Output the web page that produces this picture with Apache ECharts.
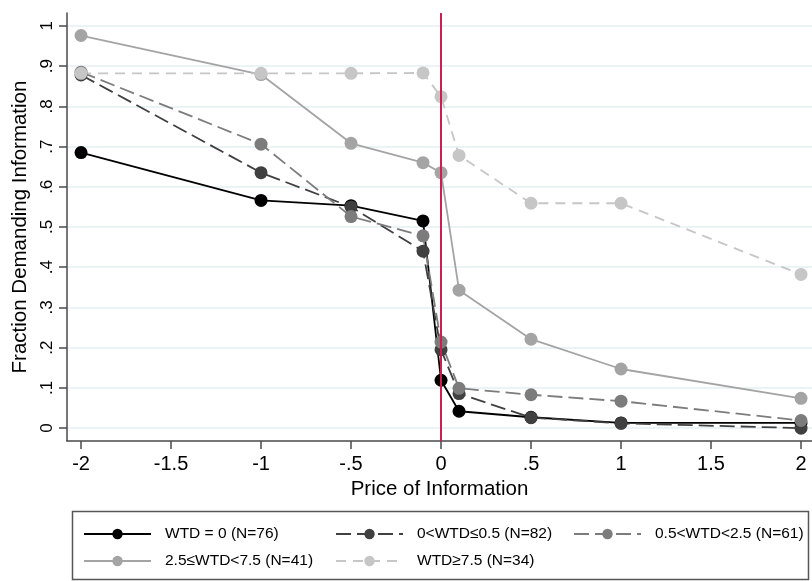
<!DOCTYPE html>
<html>
<head>
<meta charset="utf-8">
<script src="https://cdn.jsdelivr.net/npm/echarts@6/dist/echarts.min.js"></script>
<style>
html,body{margin:0;padding:0;background:#fff;}
#chart{width:812px;height:581px;}
</style>
</head>
<body>
<div id="chart"></div>
<script>
// ---- data ----
const prices = [-2, -1, -0.5, -0.1, 0, 0.1, 0.5, 1, 2];
const seriesNames = ['WTD = 0 (N=76)', '0<WTD\u22640.5 (N=82)', '0.5<WTD<2.5 (N=61)', '2.5\u2264WTD<7.5 (N=41)', 'WTD\u22657.5 (N=34)'];
const wtd0      = [0.685, 0.566, 0.553, 0.515, 0.119, 0.042, 0.027, 0.013, 0.013];
const wtd0to05  = [0.878, 0.635, 0.550, 0.440, 0.195, 0.086, 0.026, 0.012, 0.000];
const wtd05to25 = [0.885, 0.706, 0.526, 0.478, 0.214, 0.099, 0.083, 0.067, 0.019];
const wtd25to75 = [0.976, 0.879, 0.708, 0.660, 0.635, 0.343, 0.221, 0.147, 0.074];
const wtd75up   = [0.882, 0.882, 0.882, 0.883, 0.824, 0.678, 0.559, 0.559, 0.382];
const xTickValues = [-2, -1.5, -1, -0.5, 0, 0.5, 1, 1.5, 2];
const xTickLabels = ['-2', '-1.5', '-1', '-.5', '0', '.5', '1', '1.5', '2'];
const yTickValues = [0, 0.1, 0.2, 0.3, 0.4, 0.5, 0.6, 0.7, 0.8, 0.9, 1];
const yTickLabels = ['0', '.1', '.2', '.3', '.4', '.5', '.6', '.7', '.8', '.9', '1'];
const refLineX = 0;

const allValues = [wtd0, wtd0to05, wtd05to25, wtd25to75, wtd75up];
const colors = ['#000000', '#404040', '#7c7c7c', '#a4a4a4', '#c6c6c6'];
const dashes = ['solid', [15, 6], [15, 6], 'solid', [10, 7]];

const FONT = '"Liberation Sans", Arial, Helvetica, sans-serif';
const chart = echarts.init(document.getElementById('chart'), null, {renderer: 'canvas'});

const xLabelMap = {}; xTickValues.forEach((v, i) => xLabelMap[v] = xTickLabels[i]);
const yLabelMap = {}; yTickValues.forEach((v, i) => yLabelMap[v.toFixed(1)] = yTickLabels[i]);

const series = allValues.map((vals, i) => ({
  name: seriesNames[i],
  type: 'line',
  data: prices.map((p, j) => [p, vals[j]]),
  symbol: 'circle',
  symbolSize: 13,
  z: 3,
  itemStyle: {color: colors[i]},
  lineStyle: {color: colors[i], width: 1.8, type: dashes[i]},
  emphasis: {disabled: true},
  animation: false
}));

// red reference line at price 0
series.unshift({
  name: 'ref',
  type: 'line',
  data: [],
  z: 1,
  silent: true,
  markLine: {
    symbol: 'none',
    silent: true,
    label: {show: false},
    lineStyle: {color: '#cc1f4f', width: 2, type: 'solid'},
    data: [{xAxis: refLineX}],
    animation: false
  }
});

const legendPos = [
  {left: 83, top: 526},
  {left: 335, top: 526},
  {left: 573, top: 526},
  {left: 83, top: 553},
  {left: 335, top: 553}
];
const legends = seriesNames.map((n, i) => ({
  data: [n],
  left: legendPos[i].left,
  top: legendPos[i].top,
  padding: 0,
  itemWidth: 67,
  itemHeight: 13,
  selectedMode: false,
  textStyle: {fontFamily: FONT, fontSize: 15.5, color: '#000', padding: [0, 0, 0, 9]}
}));

chart.setOption({
  animation: false,
  backgroundColor: '#fff',
  grid: {left: 67, right: 0, top: 13, height: 428, containLabel: false},
  xAxis: {
    type: 'value',
    min: -2.078, max: 2.061,
    name: 'Price of Information',
    nameLocation: 'middle',
    nameGap: 38,
    nameTextStyle: {fontFamily: FONT, fontSize: 20.5, color: '#000'},
    axisLine: {show: true, onZero: false, lineStyle: {color: '#4a4a4a', width: 1.5}},
    axisTick: {show: true, length: 8, customValues: xTickValues, lineStyle: {color: '#4a4a4a', width: 1.5}},
    axisLabel: {
      customValues: xTickValues,
      margin: 13,
      fontFamily: FONT, fontSize: 20, color: '#000',
      formatter: v => xLabelMap[v] !== undefined ? xLabelMap[v] : ''
    },
    splitLine: {show: false}
  },
  yAxis: {
    type: 'value',
    min: -0.032, max: 1.032,
    name: 'Fraction Demanding Information',
    nameLocation: 'middle',
    nameGap: 35,
    nameTextStyle: {fontFamily: FONT, fontSize: 20.5, color: '#000'},
    axisLine: {show: true, onZero: false, lineStyle: {color: '#4a4a4a', width: 1.5}},
    axisTick: {show: true, length: 8, customValues: yTickValues, lineStyle: {color: '#4a4a4a', width: 1.5}},
    axisLabel: {
      customValues: yTickValues,
      rotate: 90,
      margin: 11.5,
      fontFamily: FONT, fontSize: 17, color: '#000',
      formatter: v => { const k = Number(v).toFixed(1); return yLabelMap[k] !== undefined ? yLabelMap[k] : ''; }
    },
    splitLine: {show: true, lineStyle: {color: '#e6eff1', width: 1.5}}
  },
  legend: legends,
  graphic: [{
    type: 'rect',
    shape: {x: 72.5, y: 511.5, width: 736, height: 68},
    style: {fill: 'none', stroke: '#555', lineWidth: 1.5},
    silent: true
  }],
  series: series
});
</script>
</body>
</html>
